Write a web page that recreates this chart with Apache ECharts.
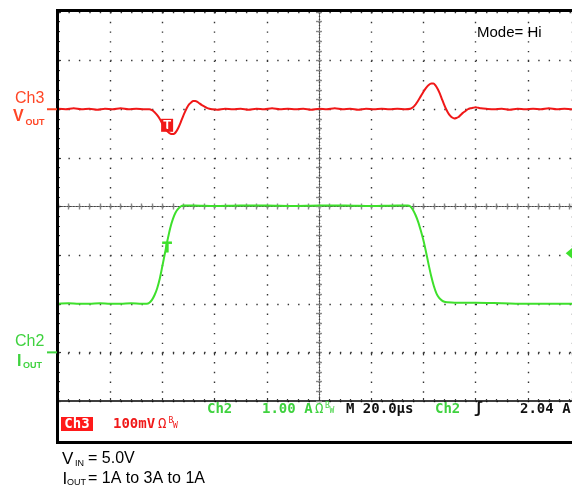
<!DOCTYPE html>
<html>
<head>
<meta charset="utf-8">
<script src="https://cdn.jsdelivr.net/npm/echarts@6/dist/echarts.min.js"></script>
<style>
  html, body { margin: 0; padding: 0; background: #ffffff; }
  #chart { width: 572px; height: 487px; }
</style>
</head>
<body>
<div id="chart"></div>
<script>
// Time base: 20 µs/div; the screen shows a little less than the full 10 divisions
const timeMin = 0;
const timeVisibleMax = 196.9;
const timeStep = 20;

// Ch3 (Vout, AC ripple) – 100 mV/div, reference level two divisions below the top
const ch3Min = -600;
const ch3Max = 200;
const ch3Step = 100;

// Ch2 (Iout) – 1 A/div, ground one division above the bottom
const ch2Min = -1;
const ch2Max = 7;
const ch2Step = 1;

// Ch3 trace: time (µs) and deviation (mV)
const ch3Time = [
  0, 3, 6, 9, 12, 15, 18, 21, 24, 27, 30, 33, 35, 36, 37, 38, 39, 40, 41, 42, 43, 43.8,
  44.6, 45.4, 46.2, 47, 47.8, 48.6, 49.4, 50.2, 51, 51.8, 52.6, 53.4, 54.2, 55, 56, 57,
  58, 59, 61, 64, 67, 70, 73, 76, 79, 82, 85, 88, 91, 94, 97, 100, 103, 106, 109, 112,
  115, 118, 121, 124, 127, 130, 133, 135, 136, 137, 138, 139, 140, 141, 142, 143, 143.8,
  144.6, 145.4, 146.2, 147, 147.8, 148.6, 149.4, 150.2, 151, 151.8, 152.6, 153.4, 154.2,
  155, 156, 157, 158, 159, 160, 161, 162, 164, 167, 170, 173, 176, 179, 182, 185, 188,
  191, 194, 197, 200
];
const ch3Millivolts = [
  1, 0, 2, 0, 1, -1, 1, 0, 2, 0, 1, 0, 0, -2, -6, -12, -20, -30, -39, -46, -50, -51,
  -50, -45, -37, -27, -16, -6, 3, 10, 14, 17, 17, 15, 12, 9, 6, 3,
  1, 0, -1, 1, 0, 1, -1, 1, 0, 2, 0, 1, 0, 1, -1, 1, 0, 2, 0, 1,
  -1, 1, 0, 1, 0, 1, 0, 1, 4, 10, 18, 27, 36, 44, 50, 53, 53,
  49, 42, 33, 22, 11, 1, -7, -13, -17, -19, -18, -16, -12,
  -8, -4, 0, 2, 3, 4, 3, 2, 1, 0, 1, -1, 1, 0, 1, 0, 2,
  0, 1, 0, 1
];

// Ch2 trace: time (µs) and load current (A)
const ch2Time = [
  0, 4, 8, 12, 16, 20, 24, 28, 32, 34, 35, 36, 37, 38, 39, 40, 41, 42, 43, 44, 45, 46,
  47, 48, 52, 60, 70, 80, 90, 100, 110, 120, 130, 134, 135, 136, 137, 138, 139, 140,
  141, 142, 143, 144, 145, 146, 147, 148, 149, 152, 160, 170, 180, 190, 200
];
const ch2Amps = [
  1.0, 1.01, 1.0, 1.0, 1.01, 1.0, 1.0, 1.01, 1.0, 1.0, 1.02, 1.08, 1.18, 1.32, 1.52, 1.78,
  2.05, 2.32, 2.56, 2.74, 2.87, 2.95,
  3.0, 3.02, 3.02, 3.01, 3.02, 3.02, 3.01, 3.02, 3.02, 3.01, 3.02, 3.02, 3.0, 2.93, 2.82,
  2.68, 2.5, 2.3,
  2.06, 1.8, 1.56, 1.36, 1.21, 1.12, 1.07, 1.04, 1.03, 1.02, 1.02, 1.01, 1.0, 1.0, 1.0
];

// Scope markers: [time µs, level]
const ch3CursorMark = [41.8, -33];
const ch2TriggerMark = [41.8, 2.15];
const triggerLevelAmps = 2.04;
const triggerArrowTime = 196.6;

const RED = '#f01818';
const RED_LABEL = '#ff4626';
const GREEN = '#3ee02c';
const GREEN_LABEL = '#3fd23f';
const SANS = '"Liberation Sans", Arial, sans-serif';
const MONO = '"DejaVu Sans Mono", monospace';

const zip = (xs, ys) => xs.map((x, i) => [x, ys[i]]);

const chart = echarts.init(document.getElementById('chart'), null, { renderer: 'canvas' });

const dotted = (color, period) => ({ color: color, width: 1.4, type: [1.4, period - 1.4] });

// graticule geometry: 52.2 px per horizontal division, 48.6 px per vertical division
const divX = 52.2, divY = 48.625;
const gridLeft = 58, gridTop = 12, gridH = divY * 8;

function centerAxis(isX, inside, offset) {
  return {
    type: 'value',
    show: true,
    min: isX ? timeMin : ch2Min,
    max: isX ? timeVisibleMax : ch2Max,
    interval: isX ? timeStep : ch2Step,
    position: isX ? 'bottom' : 'left',
    offset: offset,
    axisLine: { show: true, onZero: false, lineStyle: { color: '#444', width: 1.2, type: [1.2, 1.8] } },
    axisTick: { show: true, inside: inside, length: 3, lineStyle: { color: '#888', width: 1.4 } },
    minorTick: { show: true, splitNumber: 5, length: 3, lineStyle: { color: '#888', width: 1.4 } },
    axisLabel: { show: false },
    splitLine: { show: false },
    silent: true
  };
}

const option = {
  animation: false,
  backgroundColor: '#ffffff',
  grid: { left: gridLeft, top: gridTop, right: 0, height: gridH, containLabel: false },
  xAxis: [
    {
      type: 'value', min: timeMin, max: timeVisibleMax, interval: timeStep, position: 'bottom',
      axisLine: { show: true, onZero: false, lineStyle: { color: '#000', width: 1.6 } },
      axisTick: { show: true, inside: true, length: 3, lineStyle: { color: '#333', width: 1.2 } },
      minorTick: { show: true, splitNumber: 5, length: 2, lineStyle: { color: '#333', width: 1.2 } },
      axisLabel: { show: false },
      splitLine: { show: true, lineStyle: dotted('#333', divY / 5) }
    },
    {
      type: 'value', min: timeMin, max: timeVisibleMax, interval: timeStep, position: 'top',
      axisLine: { show: false },
      axisTick: { show: true, inside: true, length: 3, lineStyle: { color: '#333', width: 1.2 } },
      minorTick: { show: true, splitNumber: 5, length: 2, lineStyle: { color: '#333', width: 1.2 } },
      axisLabel: { show: false }, splitLine: { show: false }
    },
    centerAxis(true, true, -gridH / 2),
    centerAxis(true, false, -gridH / 2)
  ],
  yAxis: [
    {
      type: 'value', min: ch2Min, max: ch2Max, interval: ch2Step, position: 'left',
      axisLine: { show: false },
      axisTick: { show: true, inside: true, length: 3, lineStyle: { color: '#333', width: 1.2 } },
      minorTick: { show: true, splitNumber: 5, length: 2, lineStyle: { color: '#333', width: 1.2 } },
      axisLabel: { show: false },
      splitLine: { show: true, lineStyle: dotted('#333', divX / 5) }
    },
    {
      type: 'value', min: ch3Min, max: ch3Max, interval: ch3Step, show: false,
      splitLine: { show: false }
    },
    centerAxis(false, true, -divX * 5),
    centerAxis(false, false, -divX * 5)
  ],
  series: [
    {
      name: 'Ch3 Vout', type: 'line', xAxisIndex: 0, yAxisIndex: 1,
      data: zip(ch3Time, ch3Millivolts),
      showSymbol: false, smooth: 0.3, clip: true,
      lineStyle: { color: RED, width: 2 },
      z: 5,
      markPoint: {
        silent: true,
        data: [{
          coord: ch3CursorMark, symbol: 'rect', symbolSize: [12, 13],
          itemStyle: { color: RED },
          label: { show: true, position: 'inside', formatter: 'T', color: '#fff', fontWeight: 'bold', fontSize: 13, fontFamily: SANS }
        }]
      }
    },
    {
      name: 'Ch2 Iout', type: 'line', xAxisIndex: 0, yAxisIndex: 0,
      data: zip(ch2Time, ch2Amps),
      showSymbol: false, smooth: 0.3, clip: true,
      lineStyle: { color: GREEN, width: 2 },
      z: 4,
      markPoint: {
        silent: true,
        data: [
          {
            coord: ch2TriggerMark, symbol: 'rect', symbolSize: [1, 1],
            itemStyle: { color: 'rgba(0,0,0,0)' },
            label: { show: true, position: 'inside', formatter: 'T', color: GREEN, fontWeight: 'bold', fontSize: 15, fontFamily: SANS,
                     textBorderColor: GREEN, textBorderWidth: 0.8 }
          }
        ]
      }
    }
  ]
};

chart.setOption(option);

// Channel reference markers on the left of the graticule, trigger level arrow on the right
const ch3Zero = chart.convertToPixel({ yAxisIndex: 1 }, 0);
const ch2Zero = chart.convertToPixel({ yAxisIndex: 0 }, 0);
const trigPx = chart.convertToPixel({ xAxisIndex: 0, yAxisIndex: 0 }, [triggerArrowTime, triggerLevelAmps]);

function txt(x, y, text, font, fill, align) {
  return {
    type: 'text', z: 200, silent: true,
    style: { x: x, y: y, text: text, font: font, fill: fill, verticalAlign: 'middle', align: align || 'left' }
  };
}

const STATUS = 'bold 14px ' + MONO;

const graphics = [
  // screen frame and status area
  { type: 'rect', z: 150, silent: true, shape: { x: 57.5, y: 10.5, width: 640, height: 432 },
    style: { fill: 'none', stroke: '#000', lineWidth: 3 } },
  { type: 'line', z: 150, silent: true, shape: { x1: 47, y1: ch3Zero, x2: 57, y2: ch3Zero },
    style: { stroke: RED_LABEL, lineWidth: 2 } },
  { type: 'line', z: 150, silent: true, shape: { x1: 47, y1: ch2Zero, x2: 57, y2: ch2Zero },
    style: { stroke: GREEN_LABEL, lineWidth: 2 } },
  { type: 'polygon', z: 150, silent: true,
    shape: { points: [[trigPx[0] - 5.5, trigPx[1]], [trigPx[0] + 1.5, trigPx[1] - 5.8], [trigPx[0] + 8, trigPx[1] - 5.8], [trigPx[0] + 8, trigPx[1] + 5.8], [trigPx[0] + 1.5, trigPx[1] + 5.8]] },
    style: { fill: GREEN } },

  // channel labels
  txt(15, 98.5, 'Ch3', '16px ' + SANS, RED_LABEL),
  txt(13, 117, 'V', 'bold 16px ' + SANS, RED_LABEL),
  txt(25.5, 122.5, 'OUT', 'bold 9px ' + SANS, RED_LABEL),
  txt(15, 341.5, 'Ch2', '16px ' + SANS, GREEN_LABEL),
  txt(17, 361.5, 'I', 'bold 16px ' + SANS, GREEN_LABEL),
  txt(23, 366, 'OUT', 'bold 9px ' + SANS, GREEN_LABEL),

  // acquisition mode
  txt(477, 33, 'Mode= Hi', '15px ' + SANS, '#000'),

  // status line 1
  txt(207, 409, 'Ch2', STATUS, GREEN_LABEL),
  txt(262, 409, '1.00 A', STATUS, GREEN_LABEL),
  txt(315, 409, 'Ω', '14px ' + MONO, GREEN_LABEL),
  txt(325, 406, 'B', '8px ' + MONO, GREEN_LABEL),
  txt(329.5, 411, 'W', '8px ' + MONO, GREEN_LABEL),
  txt(346, 409, 'M 20.0µs', STATUS, '#111'),
  txt(435, 409, 'Ch2', STATUS, GREEN_LABEL),
  txt(474, 409, 'ʃ', 'bold 15px ' + MONO, '#111'),
  txt(520, 409, '2.04 A', STATUS, '#111'),

  // status line 2
  { type: 'rect', z: 190, silent: true, shape: { x: 61, y: 417, width: 32, height: 14 }, style: { fill: '#ff1a1a' } },
  txt(77, 424, 'Ch3', 'bold 14px ' + MONO, '#fff', 'center'),
  txt(113, 424, '100mV', STATUS, RED),
  txt(158, 424, 'Ω', '14px ' + MONO, RED),
  txt(168.5, 421, 'B', '8px ' + MONO, RED),
  txt(173, 426, 'W', '8px ' + MONO, RED),

  // test conditions below the screen
  txt(62, 459, 'V', '17px ' + SANS, '#000'),
  txt(75, 463.5, 'IN', '9px ' + SANS, '#000'),
  txt(88, 459, '= 5.0V', '16px ' + SANS, '#000'),
  txt(62.5, 479, 'I', '17px ' + SANS, '#000'),
  txt(67, 483, 'OUT', '9px ' + SANS, '#000'),
  txt(88, 479, '= 1A to 3A to 1A', '16px ' + SANS, '#000')
];

chart.setOption({ graphic: graphics });
</script>
</body>
</html>
